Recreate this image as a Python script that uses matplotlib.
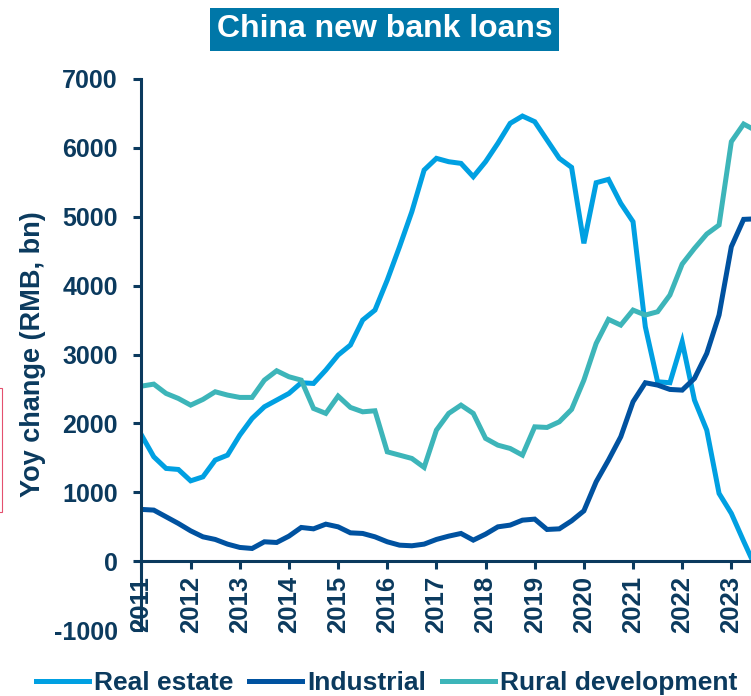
import matplotlib
matplotlib.use("Agg")
import matplotlib.pyplot as plt
from matplotlib.patches import Rectangle
import numpy as np

plt.rcParams['font.family'] = ['Liberation Sans', 'DejaVu Sans']
plt.rcParams['font.weight'] = 'bold'
plt.rcParams['axes.unicode_minus'] = False

start_year = 2011
real_estate = [1830, 1515, 1346, 1331, 1166, 1224, 1467, 1539, 1830, 2072,
               2241, 2338, 2435, 2590, 2580, 2774, 2992, 3137, 3500, 3645,
               4081, 4565, 5073, 5678, 5848, 5799, 5775, 5581, 5799, 6066,
               6356, 6462, 6380, 6114, 5848, 5717, 4614, 5494, 5543, 5195,
               4928, 3403, 2604, 2590, 3185, 2338, 1902, 983, 693, 290, -100]
industrial = [751, 741, 644, 547, 440, 353, 315, 247, 199, 184,
              281, 271, 363, 489, 469, 537, 498, 411, 402, 353,
              281, 232, 223, 247, 315, 363, 402, 305, 392, 498,
              523, 595, 610, 460, 469, 585, 730, 1152, 1467, 1805,
              2314, 2590, 2556, 2493, 2483, 2653, 3016, 3573, 4565, 4962, 4970]
rural = [2541, 2570, 2435, 2362, 2265, 2348, 2459, 2411, 2377, 2377,
         2628, 2764, 2677, 2628, 2217, 2145, 2396, 2232, 2168, 2183,
         1587, 1539, 1491, 1361, 1902, 2145, 2265, 2145, 1782, 1684,
         1636, 1539, 1950, 1941, 2023, 2203, 2628, 3161, 3510, 3427,
         3645, 3573, 3621, 3863, 4313, 4541, 4749, 4880, 6090, 6346, 6250]
series_names = ["Real estate", "Industrial", "Rural development"]
year_ticks = list(range(2011, 2024))
y_ticks = list(range(-1000, 8000, 1000))

x = start_year + np.arange(len(real_estate)) * 0.25

navy = '#0B3A5E'
c_re = '#00A0E2'
c_ind = '#0052A0'
c_rur = '#3DB5B9'

fig = plt.figure(figsize=(7.51, 6.96), dpi=100)
ax = fig.add_axes([0.1884, 0.0948, 0.8116, 0.7917])

lw = 3.6
ax.plot(x, real_estate, color=c_re, lw=lw, label=series_names[0], solid_joinstyle='miter')
ax.plot(x, industrial, color=c_ind, lw=lw, label=series_names[1], solid_joinstyle='miter')
ax.plot(x, rural, color=c_rur, lw=lw, label=series_names[2], solid_joinstyle='miter')

ax.set_xlim(2011, 2023.40)
ax.set_ylim(-1000, 7000)
ax.set_yticks(y_ticks)
ax.set_xticks(year_ticks)
ax.set_xticklabels([str(y) for y in year_ticks])

for s in ['top', 'right']:
    ax.spines[s].set_visible(False)
ax.spines['bottom'].set_position(('data', 0))
for s in ['left', 'bottom']:
    ax.spines[s].set_color(navy)
    ax.spines[s].set_linewidth(2.2)

ax.tick_params(axis='y', colors=navy, labelsize=18, length=6, width=2.2, pad=11)
ax.tick_params(axis='x', colors=navy, labelsize=18.5, length=5.5, width=2.2, pad=5,
               labelrotation=90)
for lab in ax.get_xticklabels():
    lab.set_fontweight('bold')
    lab.set_ha('center')
    lab.set_va('top')
for lab in ax.get_yticklabels():
    lab.set_fontweight('bold')

ax.set_ylabel("Yoy change (RMB, bn)", fontsize=19.5, fontweight='bold', color=navy, labelpad=6)

fig.text(0.512, 0.958, "China new bank loans", fontsize=23, fontweight='bold', color='white',
         ha='center', va='center',
         bbox=dict(boxstyle='square,pad=0.2', facecolor='#0077A8', edgecolor='none'))

leg = fig.legend(loc='center', bbox_to_anchor=(0.515, 0.019), ncol=3, frameon=False,
                 fontsize=19, handlelength=2.0, handletextpad=0.2, columnspacing=0.6,
                 borderpad=0, borderaxespad=0)
for t in leg.get_texts():
    t.set_color(navy)
    t.set_fontweight('bold')

fig.patches.append(Rectangle((-0.01, 1 - 512/696), 0.013, 124/696, transform=fig.transFigure,
                             fill=False, edgecolor='#E4506E', lw=0.8))

fig.savefig('out.png', dpi=100)
